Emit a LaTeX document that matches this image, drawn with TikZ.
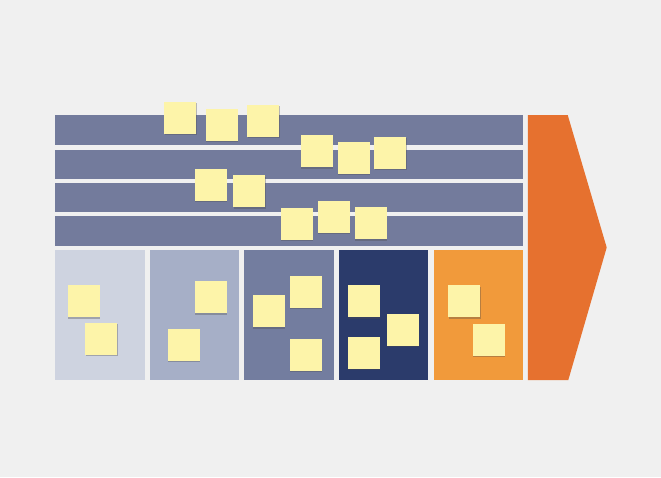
\documentclass[tikz,border=0pt]{standalone}
\usetikzlibrary{shadows}
\definecolor{bg}{HTML}{F0F0F0}
\definecolor{rowc}{HTML}{737B9C}
\definecolor{colA}{HTML}{CED3E0}
\definecolor{colB}{HTML}{A6AFC7}
\definecolor{colC}{HTML}{737D9F}
\definecolor{colD}{HTML}{2B3B6B}
\definecolor{colE}{HTML}{F19A3B}
\definecolor{arrowc}{HTML}{E6712F}
\definecolor{notec}{HTML}{FDF4A9}
\tikzset{
  rowbar/.style={fill=rowc, draw=none, anchor=north west, inner sep=0pt, minimum width=467.7pt, minimum height=29.4pt},
  colbox/.style={draw=none, anchor=north west, inner sep=0pt, minimum width=89.3pt, minimum height=130pt},
  note/.style={fill=notec, draw=none, inner sep=0pt, minimum size=32pt,
    drop shadow={shadow xshift=0.4pt, shadow yshift=-1.4pt, opacity=0.35, fill=black!70}}
}
\begin{document}
\begin{tikzpicture}[x=1pt,y=-1pt]
\fill[bg] (0,0) rectangle (661,477);
\useasboundingbox (0,0) rectangle (661,477);
% rows
\node[rowbar] (r1) at (55,115) {};
\node[rowbar] (r2) at (55,149.3) {};
\node[rowbar] (r3) at (55,182.7) {};
\node[rowbar] (r4) at (55,216) {};
% columns
\node[colbox, fill=colA] (c1) at (55,250) {};
\node[colbox, fill=colB] (c2) at (149.5,250) {};
\node[colbox, fill=colC] (c3) at (244,250) {};
\node[colbox, fill=colD] (c4) at (338.8,250) {};
\node[colbox, fill=colE] (c5) at (433.4,250) {};
% arrow
\fill[arrowc] (527.8,115) -- (567.7,115) -- (606.7,247.5) -- (568.3,380) -- (527.8,380) -- cycle;
% notes on rows
\node[note] (n1) at (180.2,118) {};
\node[note] (n2) at (221.8,124.8) {};
\node[note] (n3) at (263.2,120.8) {};
\node[note] (n4) at (317,151.2) {};
\node[note] (n5) at (353.5,157.5) {};
\node[note] (n6) at (390.3,152.8) {};
\node[note] (n7) at (210.8,184.5) {};
\node[note] (n8) at (249.3,191.2) {};
\node[note] (n9) at (296.8,223.7) {};
\node[note] (n10) at (333.5,216.8) {};
\node[note] (n11) at (370.8,223.3) {};
% notes in columns
\node[note] (b1) at (83.8,301.2) {};
\node[note] (b2) at (101.2,338.5) {};
\node[note] (b3) at (210.8,297.2) {};
\node[note] (b4) at (183.8,345) {};
\node[note] (b5) at (268.8,311.2) {};
\node[note] (b6) at (305.5,291.7) {};
\node[note] (b7) at (305.5,354.7) {};
\node[note] (b8) at (363.8,301.2) {};
\node[note] (b9) at (402.8,329.5) {};
\node[note] (b10) at (363.8,352.5) {};
\node[note] (b11) at (464.2,301.2) {};
\node[note] (b12) at (488.7,340) {};
\end{tikzpicture}
\end{document}
